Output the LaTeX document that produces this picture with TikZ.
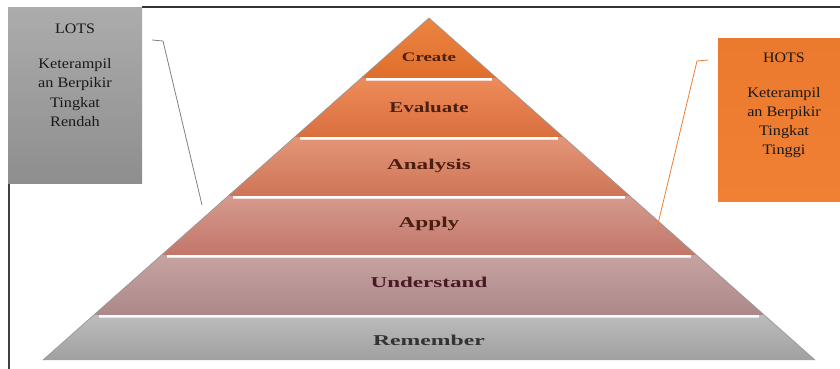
\documentclass[tikz,border=0pt]{standalone}
\usepackage{fontspec}
\setmainfont{Liberation Serif}
\definecolor{labc}{HTML}{4A1E10}
\definecolor{undc}{HTML}{4A1A22}
\definecolor{remc}{HTML}{333333}
\definecolor{ogr}{HTML}{A5A5A5}
\definecolor{oor}{HTML}{ED7D31}
\begin{document}
\begin{tikzpicture}[x=1pt,y=-1pt,
  hlout/.style={line width=3.2pt, draw={rgb,255:red,250;green,222;blue,212}, line cap=butt},
  hlin/.style={line width=1.3pt, draw=white, line cap=butt},
  lab/.style={font=\bfseries\fontsize{15}{15}\selectfont, inner sep=0pt, anchor=base},
  boxtxt/.style={font=\fontsize{14.5}{19}\selectfont, inner sep=0pt, anchor=base, text=black!90},
]
\useasboundingbox (0,0) rectangle (840,369);
% frame lines
\draw[line width=1.8pt, black!80] (142,7) -- (840,7);
\draw[line width=2pt, black!75] (9,183) -- (9,369);
% bands
\shade[top color={rgb,255:red,236;green,132;blue,66}, bottom color={rgb,255:red,224;green,110;blue,44}]
  (429,18) -- (496.7,78) -- (361.3,78) -- cycle;
\shade[top color={rgb,255:red,238;green,140;blue,90}, bottom color={rgb,255:red,218;green,110;blue,62}]
  (361.3,78) -- (496.7,78) -- (563.3,137) -- (294.7,137) -- cycle;
\shade[top color={rgb,255:red,228;green,150;blue,120}, bottom color={rgb,255:red,206;green,116;blue,86}]
  (294.7,137) -- (563.3,137) -- (629.9,196) -- (228.1,196) -- cycle;
\shade[top color={rgb,255:red,214;green,154;blue,142}, bottom color={rgb,255:red,194;green,118;blue,106}]
  (228.1,196) -- (629.9,196) -- (696.5,255) -- (161.5,255) -- cycle;
\shade[top color={rgb,255:red,198;green,162;blue,160}, bottom color={rgb,255:red,172;green,136;blue,138}]
  (161.5,255) -- (696.5,255) -- (764.2,315) -- (93.8,315) -- cycle;
\shade[top color={rgb,255:red,188;green,188;blue,188}, bottom color={rgb,255:red,160;green,160;blue,160}]
  (93.8,315) -- (764.2,315) -- (815,360) -- (43,360) -- cycle;
% side edges
\draw[line width=0.7pt, black!40] (43,360) -- (429,18) -- (815,360);
% highlight lines
\foreach \y/\l/\r in {79.5/366/492, 138.5/300/558, 197.5/233/625, 256.5/167/691, 316.5/99/759}{
  \draw[hlout] (\l,\y) -- (\r,\y);
  \draw[hlin] (\l,\y-0.5) -- (\r,\y-0.5);
}
% labels
\node[lab, text=labc, font=\bfseries\fontsize{13}{13}\selectfont] (create) at (429,62) {\scalebox{1.45}[1]{Create}};
\node[lab, text=labc] (evaluate) at (429,112) {\scalebox{1.4}[1]{Evaluate}};
\node[lab, text=labc] (analysis) at (429,169) {\scalebox{1.55}[1]{Analysis}};
\node[lab, text=labc] (apply) at (429,227) {\scalebox{1.55}[1]{Apply}};
\node[lab, text=undc] (understand) at (429,287) {\scalebox{1.54}[1]{Understand}};
\node[lab, text=remc] (remember) at (429,345) {\scalebox{1.58}[1]{Remember}};
% LOTS box
\node[draw=none, top color={rgb,255:red,172;green,172;blue,172}, bottom color={rgb,255:red,142;green,142;blue,142},
  minimum width=134, minimum height=176, anchor=north west, inner sep=0pt] (lots) at (8,7) {};
\node[boxtxt] (lotst) at (75,34) {\scalebox{1.1}[1]{LOTS}};
\node[boxtxt] (lots1) at (75,69) {\scalebox{1.12}[1]{Keterampil}};
\node[boxtxt] (lots2) at (75,88) {\scalebox{1.12}[1]{an Berpikir}};
\node[boxtxt] (lots3) at (75,107) {\scalebox{1.12}[1]{Tingkat}};
\node[boxtxt] (lots4) at (75,126) {\scalebox{1.12}[1]{Rendah}};
% HOTS box
\node[draw=none, top color={rgb,255:red,236;green,122;blue,46}, bottom color={rgb,255:red,240;green,128;blue,52},
  minimum width=122, minimum height=163, anchor=north west, inner sep=0pt] (hots) at (718,38) {};
\node[boxtxt] (hotst) at (784,63) {\scalebox{1.1}[1]{HOTS}};
\node[boxtxt] (hots1) at (784,97) {\scalebox{1.12}[1]{Keterampil}};
\node[boxtxt] (hots2) at (784,116) {\scalebox{1.12}[1]{an Berpikir}};
\node[boxtxt] (hots3) at (784,135) {\scalebox{1.12}[1]{Tingkat}};
\node[boxtxt] (hots4) at (784,154) {\scalebox{1.12}[1]{Tinggi}};
% connectors
\coordinate (la) at (152,40);
\coordinate (lb) at (163,41);
\coordinate (lc) at (202,205);
\draw[line width=0.8pt, black!50] (la) -- (lb) -- (lc);
\coordinate (ra) at (708,60);
\coordinate (rb) at (697,61);
\coordinate (rc) at (657,228);
\draw[line width=0.8pt, oor] (ra) -- (rb) -- (rc);
\end{tikzpicture}
\end{document}
